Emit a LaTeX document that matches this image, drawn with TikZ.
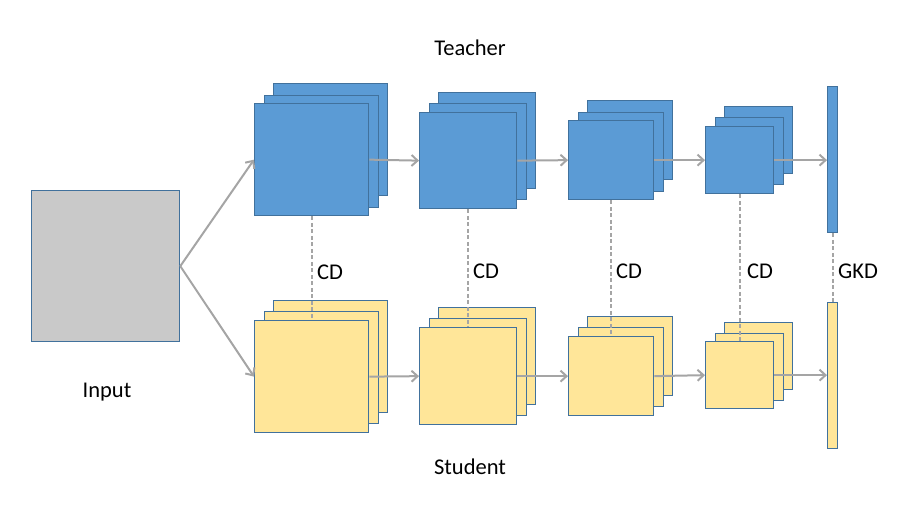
\documentclass[tikz,border=0pt]{standalone}
\usepackage{fontspec}
\setmainfont{Carlito}
\usetikzlibrary{arrows.meta}

\definecolor{tblue}{HTML}{5B9BD5}
\definecolor{syellow}{HTML}{FFE699}
\definecolor{ingray}{HTML}{C9C9C9}
\definecolor{edgeblue}{HTML}{41719C}
\definecolor{linegray}{HTML}{A5A5A5}

\begin{document}
\begin{tikzpicture}[x=1pt,y=-1pt]
    \tikzset{fmap/.style = {draw=edgeblue, line width=1.3pt, inner sep=0pt, anchor=north west}}
    \tikzset{tmap/.style = {fmap, fill=tblue}}
    \tikzset{smap/.style = {fmap, fill=syellow}}
    \tikzset{flow/.style = {draw=linegray, line width=2pt, -{Straight Barb[length=6pt,width=11pt]}}}
    \tikzset{link/.style = {draw=linegray, line width=2pt, dash pattern=on 4pt off 2.5pt}}
    \tikzset{lbl/.style = {font=\fontsize{22.5}{26}\selectfont, inner sep=0pt}}

    \useasboundingbox (0,0) rectangle (910,505);

    % input
    \node[fmap, fill=ingray, minimum width=148pt, minimum height=151pt] (in) at (31,190) {};

    % teacher maps
    \node[tmap, minimum width=114pt, minimum height=112pt] (t1c) at (273,83) {};
    \node[tmap, minimum width=114pt, minimum height=112pt] (t1b) at (264,95) {};
    \node[tmap, minimum width=114pt, minimum height=112pt] (t1a) at (254,103) {};
    \node[tmap, minimum width=97pt, minimum height=96pt] (t2c) at (438,92) {};
    \node[tmap, minimum width=97pt, minimum height=96pt] (t2b) at (429,103) {};
    \node[tmap, minimum width=97pt, minimum height=96pt] (t2a) at (419,112) {};
    \node[tmap, minimum width=85pt, minimum height=79pt] (t3c) at (587,100) {};
    \node[tmap, minimum width=85pt, minimum height=79pt] (t3b) at (578,112) {};
    \node[tmap, minimum width=85pt, minimum height=79pt] (t3a) at (568,120) {};
    \node[tmap, minimum width=68pt, minimum height=67pt] (t4c) at (724,106) {};
    \node[tmap, minimum width=68pt, minimum height=67pt] (t4b) at (715,117) {};
    \node[tmap, minimum width=68pt, minimum height=67pt] (t4a) at (705,126) {};
    \node[tmap, minimum width=10pt, minimum height=146pt] (tv) at (827,86) {};

    % student maps
    \node[smap, minimum width=114pt, minimum height=112pt] (s1c) at (273,300) {};
    \node[smap, minimum width=114pt, minimum height=112pt] (s1b) at (264,311) {};
    \node[smap, minimum width=114pt, minimum height=112pt] (s1a) at (254,320) {};
    \node[smap, minimum width=97pt, minimum height=97pt] (s2c) at (438,307) {};
    \node[smap, minimum width=97pt, minimum height=97pt] (s2b) at (429,318) {};
    \node[smap, minimum width=97pt, minimum height=97pt] (s2a) at (419,327) {};
    \node[smap, minimum width=85pt, minimum height=79pt] (s3c) at (587,316) {};
    \node[smap, minimum width=85pt, minimum height=79pt] (s3b) at (578,327) {};
    \node[smap, minimum width=85pt, minimum height=79pt] (s3a) at (568,336) {};
    \node[smap, minimum width=68pt, minimum height=67pt] (s4c) at (724,322) {};
    \node[smap, minimum width=68pt, minimum height=67pt] (s4b) at (715,333) {};
    \node[smap, minimum width=68pt, minimum height=67pt] (s4a) at (705,341) {};
    \node[smap, minimum width=10pt, minimum height=146pt] (sv) at (827,302) {};

    % labels
    \node[lbl] (teacher) at (470,48) {Teacher};
    \node[lbl] (student) at (470,467) {Student};
    \node[lbl] (input) at (107,392) {Input};
    \node[lbl, anchor=west] (cd1) at (317,272) {CD};
    \node[lbl, anchor=west] (cd2) at (473,271) {CD};
    \node[lbl, anchor=west] (cd3) at (616,271) {CD};
    \node[lbl, anchor=west] (cd4) at (747,271) {CD};
    \node[lbl, anchor=west] (gkd) at (838,271) {GKD};

    % edges
    \draw[flow] (in.east) to (t1a.west);
    \draw[flow] (in.east) to (s1a.west);
    \draw[flow] (t1a.east) to (t2a.west);
    \draw[flow] (t2a.east) to (t3a.west);
    \draw[flow] (t3a.east) to (t4a.west);
    \draw[flow] (t4a.east) to (t4a.east -| tv.west);
    \draw[flow] (s1a.east) to (s2a.west);
    \draw[flow] (s2a.east) to (s3a.west);
    \draw[flow] (s3a.east) to (s4a.west);
    \draw[flow] (s4a.east) to (s4a.east -| sv.west);

    % distillation links
    \draw[link] (t1a.south) to (s1a.north);
    \draw[link] (t2a.south) to (s2a.north);
    \draw[link] (t3a.south) to (s3a.north);
    \draw[link] (t4a.south) to (s4a.north);
    \draw[link] (tv.south) to (sv.north);
\end{tikzpicture}
\end{document}
